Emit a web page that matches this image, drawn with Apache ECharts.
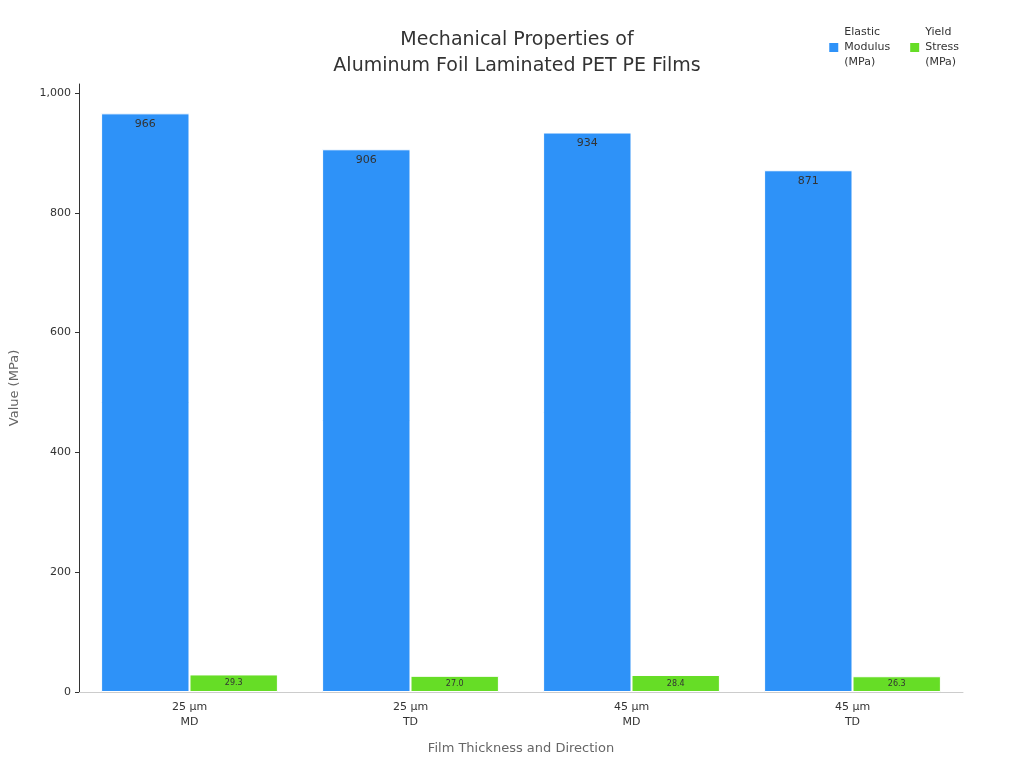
<!DOCTYPE html>
<html><head><meta charset="utf-8">
<script src="https://cdn.jsdelivr.net/npm/echarts@6/dist/echarts.min.js"></script>
<style>html,body{margin:0;padding:0;background:#fff}#c{width:1024px;height:768px}</style>
</head><body><div id="c"></div>
<script>
const categories = ['25 µm\nMD', '25 µm\nTD', '45 µm\nMD', '45 µm\nTD'];
const elasticModulus = [966, 906, 934, 871];
const yieldStress = [29.3, 27.0, 28.4, 26.3];
const seriesNames = ['Elastic\nModulus\n(MPa)', 'Yield\nStress\n(MPa)'];
const chart = echarts.init(document.getElementById('c'));
const font = 'DejaVu Sans';
chart.setOption({
  textStyle: {fontFamily: font},
  title: {text: 'Mechanical Properties of\nAluminum Foil Laminated PET PE Films', left: 512, textAlign: 'center', top: 22,
    textStyle: {fontSize: 19, fontWeight: 'normal', color: '#333', lineHeight: 26, fontFamily: font}},
  legend: {right: 60, top: 20, itemWidth: 11, itemHeight: 11, itemGap: 18,
    textStyle: {fontSize: 11, color: '#333', lineHeight: 15, fontFamily: font}, icon: 'rect'},
  grid: {left: 76, right: 61, top: 84, bottom: 76},
  xAxis: {type: 'category', data: categories,
    name: 'Film Thickness and Direction', nameLocation: 'middle', nameGap: 50,
    nameTextStyle: {fontSize: 13, color: '#666'},
    axisLine: {lineStyle: {color: '#ccc'}}, axisTick: {show: false},
    axisLabel: {fontSize: 11, color: '#333', lineHeight: 15}},
  yAxis: {type: 'value', min: 0, max: 1015, interval: 200,
    name: 'Value (MPa)', nameLocation: 'middle', nameGap: 58,
    nameTextStyle: {fontSize: 13, color: '#666'},
    axisLine: {show: true, lineStyle: {color: '#333'}}, axisTick: {show: true, length: 4},
    splitLine: {show: false},
    axisLabel: {fontSize: 11, color: '#333', showMaxLabel: false}},
  series: [
    {name: seriesNames[0], type: 'bar', data: elasticModulus, barGap: '0%', barCategoryGap: '20%',
      itemStyle: {color: '#2e92f8', borderColor: '#fff', borderWidth: 1},
      label: {show: true, position: 'insideTop', fontSize: 11, color: '#333', offset: [0, 0]}},
    {name: seriesNames[1], type: 'bar', data: yieldStress,
      itemStyle: {color: '#66dd26', borderColor: '#fff', borderWidth: 1},
      label: {show: true, position: 'inside', fontSize: 8, color: '#333', formatter: p => p.value.toFixed(1)}}
  ]
});
</script></body></html>
